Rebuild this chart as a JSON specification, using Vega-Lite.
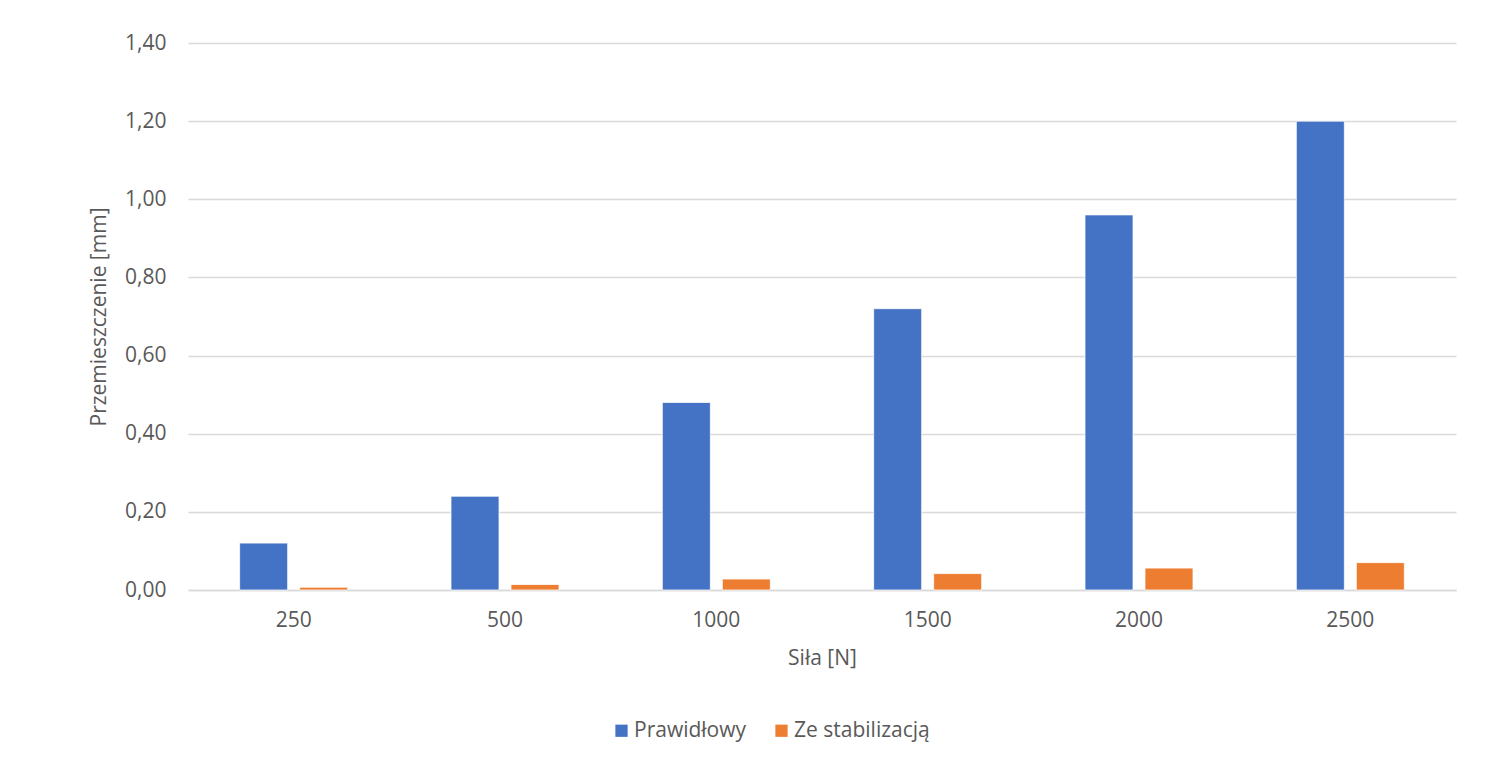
{
  "$schema": "https://vega.github.io/schema/vega-lite/v6.json",
  "width": 1268,
  "height": 547,
  "autosize": {"type": "none"},
  "padding": {"left": 188, "top": 43, "right": 56, "bottom": 174},
  "background": "#ffffff",
  "config": {
    "font": "Open Sans",
    "view": {"stroke": null},
    "axis": {"labelColor": "#595959", "titleColor": "#595959", "labelFont": "Open Sans", "titleFont": "Open Sans", "titleFontWeight": "normal"}
  },
  "data": {
    "values": [
      {"sila": "250", "seria": "Prawidłowy", "wartosc": 0.12},
      {"sila": "250", "seria": "Ze stabilizacją", "wartosc": 0.007},
      {"sila": "500", "seria": "Prawidłowy", "wartosc": 0.24},
      {"sila": "500", "seria": "Ze stabilizacją", "wartosc": 0.014},
      {"sila": "1000", "seria": "Prawidłowy", "wartosc": 0.48},
      {"sila": "1000", "seria": "Ze stabilizacją", "wartosc": 0.028},
      {"sila": "1500", "seria": "Prawidłowy", "wartosc": 0.72},
      {"sila": "1500", "seria": "Ze stabilizacją", "wartosc": 0.042},
      {"sila": "2000", "seria": "Prawidłowy", "wartosc": 0.96},
      {"sila": "2000", "seria": "Ze stabilizacją", "wartosc": 0.056},
      {"sila": "2500", "seria": "Prawidłowy", "wartosc": 1.2},
      {"sila": "2500", "seria": "Ze stabilizacją", "wartosc": 0.07}
    ]
  },
  "mark": {"type": "bar", "stroke": "#ffffff", "strokeWidth": 0.75},
  "encoding": {
    "x": {
      "field": "sila",
      "type": "ordinal",
      "sort": ["250", "500", "1000", "1500", "2000", "2500"],
      "scale": {"paddingInner": 0.489, "paddingOuter": 0.2445},
      "axis": {
        "title": "Siła [N]",
        "titleFontSize": 21,
        "titlePadding": 17,
        "labelFontSize": 21,
        "labelAngle": 0,
        "labelPadding": 19,
        "ticks": false,
        "domain": true,
        "domainColor": "#d9d9d9",
        "domainWidth": 1.5,
        "grid": false
      }
    },
    "xOffset": {
      "field": "seria",
      "type": "nominal",
      "sort": ["Prawidłowy", "Ze stabilizacją"],
      "scale": {"paddingInner": 0.2, "paddingOuter": 0}
    },
    "y": {
      "field": "wartosc",
      "type": "quantitative",
      "scale": {"domain": [0, 1.4], "nice": false},
      "axis": {
        "title": "Przemieszczenie [mm]",
        "titleFontSize": 21,
        "titlePadding": 15,
        "labelFontSize": 21,
        "labelPadding": 22,
        "values": [0, 0.2, 0.4, 0.6, 0.8, 1.0, 1.2, 1.4],
        "labelExpr": "replace(format(datum.value, '.2f'), '.', ',')",
        "ticks": false,
        "domain": false,
        "grid": true,
        "gridColor": "#d9d9d9",
        "gridWidth": 1.5
      }
    },
    "color": {
      "field": "seria",
      "type": "nominal",
      "scale": {"domain": ["Prawidłowy", "Ze stabilizacją"], "range": ["#4472C4", "#ED7D31"]},
      "legend": {
        "title": null,
        "orient": "none",
        "direction": "horizontal",
        "legendX": 423,
        "legendY": 677,
        "symbolType": "square",
        "symbolSize": 150,
        "symbolStrokeWidth": 0,
        "labelFontSize": 21,
        "labelColor": "#595959",
        "labelFont": "Open Sans",
        "labelOffset": 2,
        "columnPadding": 24
      }
    }
  }
}
